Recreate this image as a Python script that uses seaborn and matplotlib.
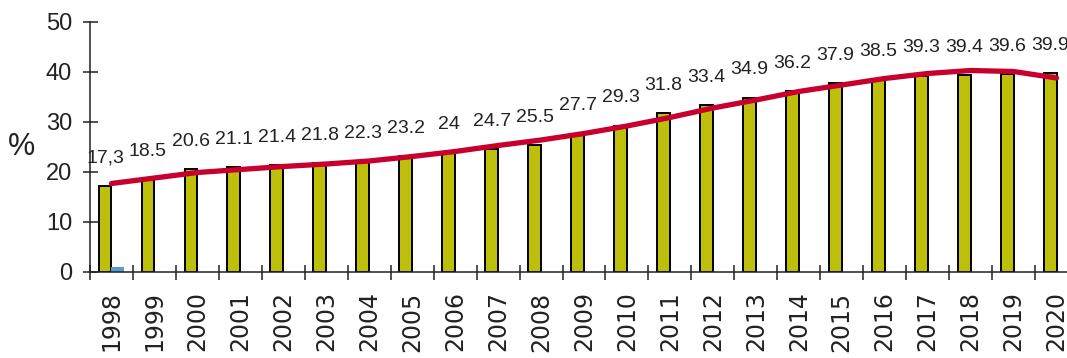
"""
Share (%) by year, 1998-2020: bars with value labels and a smoothed trend line.
"""

import numpy as np
import pandas as pd
import matplotlib
matplotlib.use("Agg")
import matplotlib.pyplot as plt
import seaborn as sns

years = [str(y) for y in range(1998, 2021)]
share = [17.3, 18.5, 20.6, 21.1, 21.4, 21.8, 22.3, 23.2, 24.0, 24.7, 25.5, 27.7,
         29.3, 31.8, 33.4, 34.9, 36.2, 37.9, 38.5, 39.3, 39.4, 39.6, 39.9]
share_labels = ["17,3", "18.5", "20.6", "21.1", "21.4", "21.8", "22.3", "23.2",
                "24", "24.7", "25.5", "27.7", "29.3", "31.8", "33.4", "34.9",
                "36.2", "37.9", "38.5", "39.3", "39.4", "39.6", "39.9"]
# small second series (only visible in 1998)
other = [1.0, 0, 0, 0, 0, 0, 0, 0, 0, 0, 0, 0,
         0, 0, 0, 0, 0, 0, 0, 0, 0, 0, 0]
# trend line
trend = [17.7, 18.8, 19.9, 20.5, 21.1, 21.6, 22.2, 23.1, 24.1, 25.3, 26.4, 27.7,
         29.2, 30.9, 32.8, 34.4, 36.1, 37.4, 38.7, 39.7, 40.3, 40.1, 38.8]

BAR = "#BDBF0A"
BLUE = "#5B9BD5"
RED = "#C8002D"
AXIS = "#222222"


def create_plot():
    sns.set_style("white")
    plt.rcParams["font.family"] = ["Liberation Sans", "DejaVu Sans"]

    fig = plt.figure(figsize=(10.67, 3.58), dpi=100)
    ax = fig.add_axes([90 / 1067, 86 / 358, 988 / 1067, 250 / 358])

    df = pd.DataFrame({"year": years * 2,
                       "value": share + other,
                       "series": ["share"] * len(years) + ["other"] * len(years)})

    sns.barplot(data=df, x="year", y="value", hue="series",
                palette=[BAR, BLUE], width=0.6, saturation=1, errorbar=None,
                legend=False, ax=ax)
    for bar in ax.containers[0]:
        bar.set_edgecolor("black")
        bar.set_linewidth(1.4)
    for bar in ax.containers[1]:
        bar.set_linewidth(0)

    # trend line through the category centres
    pos = np.arange(len(years))
    sns.lineplot(x=pos, y=trend, color=RED, linewidth=3.8, ax=ax)

    # value labels above the bars
    for i, (v, lab) in enumerate(zip(share, share_labels)):
        ax.text(i - 0.15, v + 5.5, lab, ha="center", va="center",
                fontsize=14, color="#222222")

    ax.set_xlim(-0.5, len(years) - 0.5)
    ax.set_ylim(0, 50)
    ax.set_yticks(range(0, 51, 10))

    sns.despine(ax=ax)
    for side in ["left", "bottom"]:
        ax.spines[side].set_color(AXIS)
        ax.spines[side].set_linewidth(1.1)

    ax.set_xticks(pos)
    ax.set_xticks(np.arange(-0.5, len(years), 1), minor=True)
    ax.tick_params(axis="x", which="major", bottom=True, length=0, pad=14)
    ax.tick_params(axis="x", which="minor", bottom=True, direction="inout",
                   length=10.8, width=1.1, color=AXIS)
    ax.tick_params(axis="y", which="major", left=True, direction="inout",
                   length=10.8, width=1.1, color=AXIS, pad=7.5, labelsize=17,
                   labelcolor="#222222")

    ax.set_xticklabels(years, rotation=90, fontsize=17, family="DejaVu Sans",
                       color="#222222")

    ax.set_xlabel("")
    ax.set_ylabel("%", rotation=0, fontsize=22, color="#222222",
                  ha="center", va="center")
    ax.yaxis.set_label_coords(-0.069, 0.5)

    fig.savefig("out.png", dpi=100)


if __name__ == "__main__":
    create_plot()
